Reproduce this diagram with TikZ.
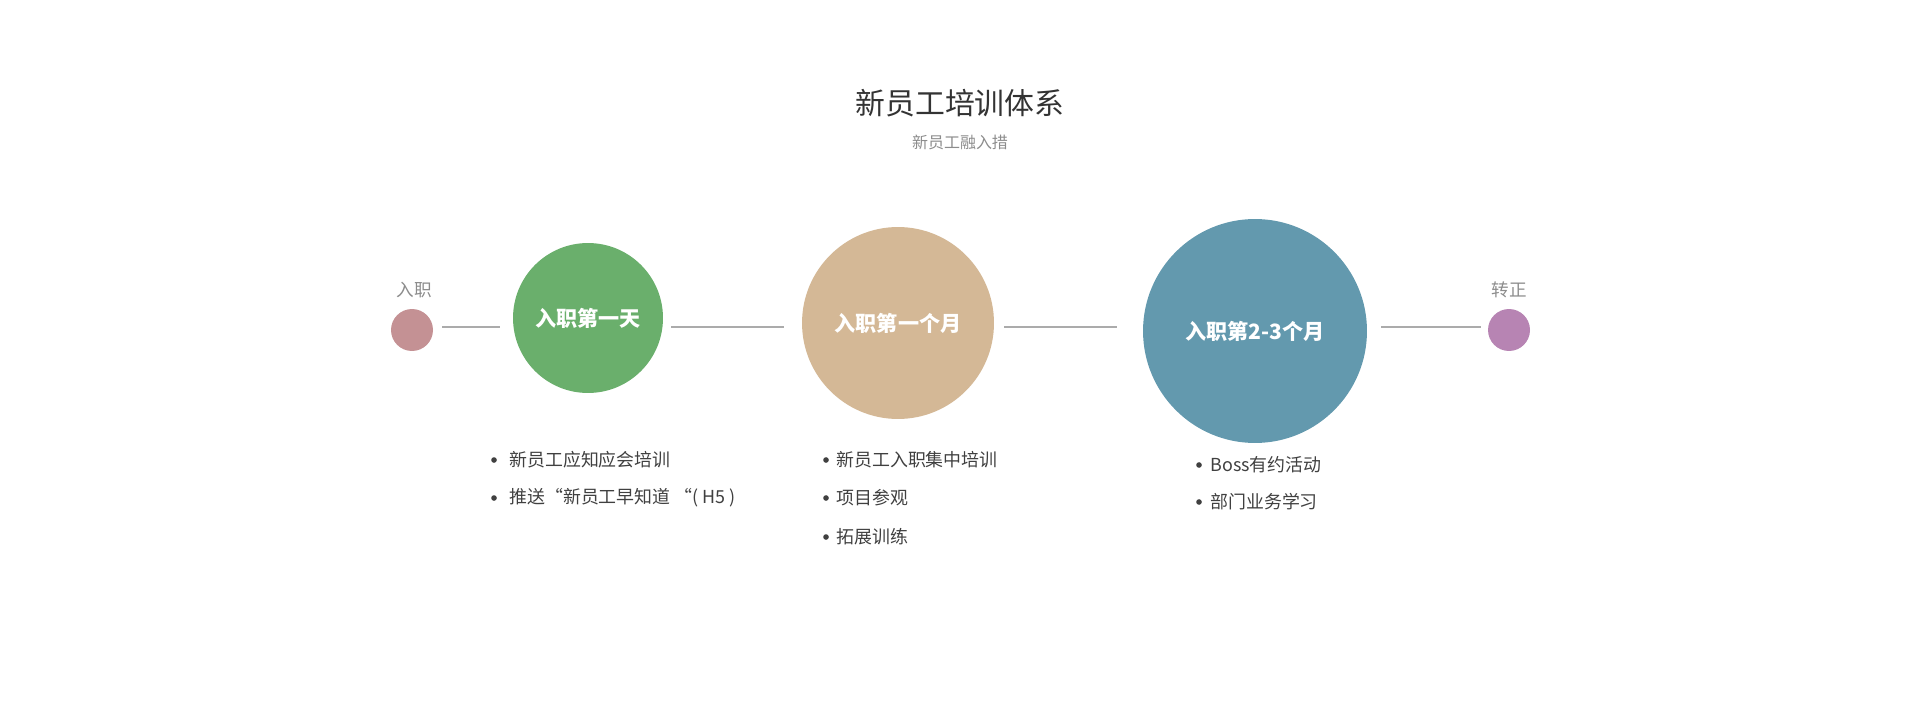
\documentclass[tikz,border=0pt]{standalone}
\usepackage{fontspec}
\setmainfont{Noto Sans CJK SC}
\definecolor{joincol}{HTML}{C49194}
\definecolor{daycol}{HTML}{6AAF6C}
\definecolor{monthcol}{HTML}{D4B896}
\definecolor{latercol}{HTML}{6399AE}
\definecolor{regularcol}{HTML}{B784B3}
\definecolor{linecol}{HTML}{ABABAB}
\definecolor{titlecol}{HTML}{333333}
\definecolor{subcol}{HTML}{8C8C8C}
\definecolor{itemcol}{HTML}{404040}

\begin{document}
\begin{tikzpicture}[x=0.02cm, y=-0.02cm,
	stage/.style={circle, inner sep=0pt, text=white, font=\bfseries\fontsize{12}{14}\selectfont},
	link/.style={line width=1.1pt, color=linecol},
	tag/.style={text=subcol, font=\fontsize{10}{12}\selectfont},
	item/.style={anchor=west, inner sep=0pt, text=itemcol, font=\fontsize{10.2}{12}\selectfont},
	bulletdot/.style={circle, fill=itemcol, inner sep=0pt, minimum size=3.2pt}]
	\useasboundingbox (0, 0) rectangle (1920, 713);
	\node (title) at (960, 103) [text=titlecol, font=\fontsize{17}{20}\selectfont] {新员工培训体系};
	\node (sub) at (960, 142) [text=subcol, font=\fontsize{9.1}{11}\selectfont] {新员工融入措};
	\node (join) at (412, 330) [stage, fill=joincol, minimum size=0.84cm] {};
	\node (jointag) at (414, 290) [tag] {入职};
	\node (day1) at (588, 318) [stage, fill=daycol, minimum size=3cm] {入职第一天};
	\node (month1) at (898, 323) [stage, fill=monthcol, minimum size=3.84cm] {入职第一个月};
	\node (month23) at (1255, 331) [stage, fill=latercol, minimum size=4.48cm] {入职第2-3个月};
	\node (regular) at (1509, 330) [stage, fill=regularcol, minimum size=0.84cm] {};
	\node (regulartag) at (1509, 290) [tag] {转正};
	\coordinate (axis) at (0, 327);
	\draw [link, shorten <=5.1pt, shorten >=7.4pt] (join.east |- axis) -- (day1.west |- axis);
	\draw [link, shorten <=4.6pt, shorten >=10.2pt] (day1.east |- axis) -- (month1.west |- axis);
	\draw [link, shorten <=5.7pt, shorten >=14.8pt] (month1.east |- axis) -- (month23.west |- axis);
	\draw [link, shorten <=8pt, shorten >=4pt] (month23.east |- axis) -- (regular.west |- axis);
	\foreach \y/\t [count=\i] in {460/新员工应知应会培训, 498/推送“新员工早知道 “( H5 )} {
		\node (daydot\i) at (494, \y) [bulletdot] {};
		\node (dayitem\i) at (509, \y) [item] {\t};
	}
	\foreach \y/\t [count=\i] in {460/新员工入职集中培训, 498/项目参观, 537/拓展训练} {
		\node (monthdot\i) at (826, \y) [bulletdot] {};
		\node (monthitem\i) at (836, \y) [item] {\t};
	}
	\foreach \y/\t [count=\i] in {465/Boss有约活动, 502/部门业务学习} {
		\node (laterdot\i) at (1199, \y) [bulletdot] {};
		\node (lateritem\i) at (1210, \y) [item] {\t};
	}
\end{tikzpicture}
\end{document}
